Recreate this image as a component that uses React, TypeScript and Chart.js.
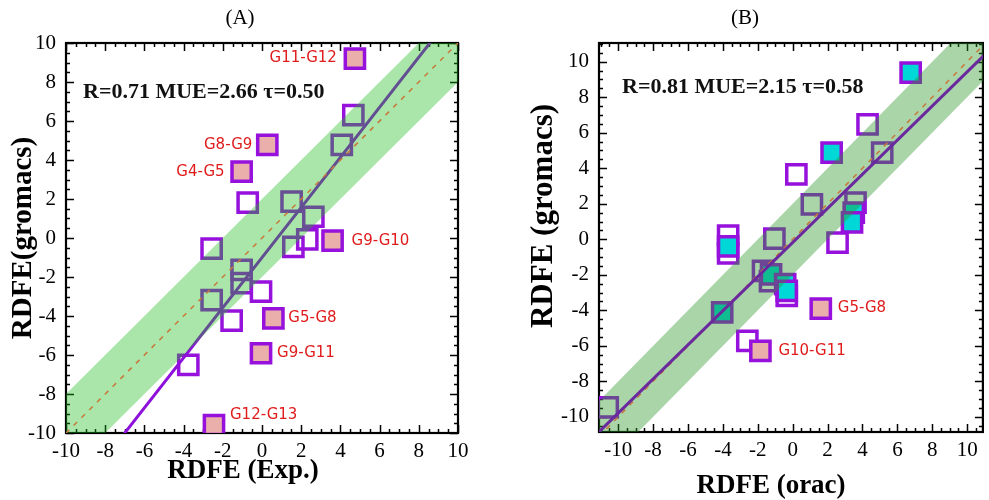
import React, { useEffect, useRef } from "react";
import { Chart, registerables } from "chart.js";
Chart.register(...registerables);

type P = { x: number; y: number };

// ---------------- Panel A data ----------------
const tickValuesA = [-10, -8, -6, -4, -2, 0, 2, 4, 6, 8, 10];
const openA: P[] = [
  { x: 4.66, y: 6.3 }, { x: 4.07, y: 4.77 }, { x: -0.73, y: 1.81 }, { x: 1.51, y: 1.86 },
  { x: 2.62, y: 1.09 }, { x: 2.31, y: -0.07 }, { x: 1.6, y: -0.45 }, { x: -2.57, y: -0.55 },
  { x: -1.04, y: -1.64 }, { x: -1.04, y: -2.32 }, { x: -2.57, y: -3.18 }, { x: -0.05, y: -2.75 },
  { x: -1.55, y: -4.24 }, { x: -3.76, y: -6.51 },
];
const filledA: P[] = [
  { x: 4.74, y: 9.2 }, { x: 0.27, y: 4.77 }, { x: -1.04, y: 3.4 }, { x: 3.6, y: -0.14 },
  { x: 0.58, y: -4.12 }, { x: -0.05, y: -5.91 }, { x: -2.45, y: -9.59 },
];
const filledLabelsA = ["G11-G12", "G8-G9", "G4-G5", "G9-G10", "G5-G8", "G9-G11", "G12-G13"];
const fitLineA: P[] = [{ x: -8, y: -11.28 }, { x: 9.5, y: 11.2 }];
const identityA: P[] = [{ x: -12, y: -12 }, { x: 12, y: 12 }];
const bandUpperA: P[] = [{ x: -12, y: -10 }, { x: 12, y: 14 }];
const bandLowerA: P[] = [{ x: -12, y: -14 }, { x: 12, y: 10 }];
const statsA = "R=0.71 MUE=2.66 \u03c4=0.50";

// ---------------- Panel B data ----------------
const tickValuesB = [-10, -8, -6, -4, -2, 0, 2, 4, 6, 8, 10];
const openB: P[] = [
  { x: 4.29, y: 6.47 }, { x: 5.13, y: 4.88 }, { x: 0.21, y: 3.66 }, { x: 1.1, y: 1.97 },
  { x: 3.6, y: 2.06 }, { x: 2.57, y: -0.19 }, { x: -1.05, y: 0.04 }, { x: -3.7, y: 0.2 },
  { x: -3.7, y: -0.8 }, { x: -1.7, y: -1.78 }, { x: -1.3, y: -2.35 }, { x: -0.34, y: -3.19 },
  { x: -2.6, y: -5.72 }, { x: -10.6, y: -9.47 },
];
const cyanB: P[] = [
  { x: 6.76, y: 9.38 }, { x: 2.23, y: 4.88 }, { x: 3.5, y: 1.5 }, { x: 3.4, y: 0.95 },
  { x: -3.7, y: -0.4 }, { x: -1.24, y: -1.97 }, { x: -0.43, y: -2.53 }, { x: -0.34, y: -2.9 },
  { x: -4.04, y: -4.12 },
];
const filledB: P[] = [{ x: 1.61, y: -3.9 }, { x: -1.85, y: -6.28 }];
const filledLabelsB = ["G5-G8", "G10-G11"];
const fitLineB: P[] = [{ x: -11.5, y: -11.23 }, { x: 11.5, y: 10.87 }];
const identityB: P[] = [{ x: -12, y: -12 }, { x: 12, y: 12 }];
const bandUpperB: P[] = [{ x: -12, y: -10 }, { x: 12, y: 14 }];
const bandLowerB: P[] = [{ x: -12, y: -14 }, { x: 12, y: 10 }];
const statsB = "R=0.81 MUE=2.15 \u03c4=0.58";

// ---------------- styles ----------------
const SERIF = '"Liberation Serif", "Times New Roman", serif';
const SANS = '"DejaVu Sans", sans-serif';
const PURPLE = "#9612DC";
const PINK = "#EBAFAB";
const CYAN = "#00D7D7";
const RED = "#E01B1B";
const DOT = "#C8783A";

type Spec = {
  id: string;
  left: number;
  width: number;
  pad: { left: number; right: number; top: number; bottom: number };
  yAxisW: number;
  xAxisH: number;
  xMin: number; xMax: number; yMin: number; yMax: number;
  ticks: number[];
  open: P[];
  filled: P[];
  filledLabels: string[];
  labelPlace: { side: number; dx: number; dy: number }[];
  cyan: P[];
  fit: P[];
  fitColor: string;
  fitOrder: number;
  identity: P[];
  bandUpper: P[];
  bandLower: P[];
  bandColor: string;
  stats: string;
  statsPos: { x: number; y: number };
  title: string;
  titlePos: { x: number; y: number };
  xTitle: string;
  xTitlePos: { x: number; y: number };
  yTitle: string;
  yTitlePos: { x: number; y: number };
  yTitleSize: number;
};

const specA: Spec = {
  id: "A", left: 0, width: 494,
  pad: { left: 0, right: 36, top: 43, bottom: 0 },
  yAxisW: 66, xAxisH: 67,
  xMin: -10, xMax: 10, yMin: -10, yMax: 10,
  ticks: tickValuesA,
  open: openA, filled: filledA, filledLabels: filledLabelsA,
  labelPlace: [
    { side: -1, dx: 18, dy: 0 }, { side: -1, dx: 15, dy: 0 }, { side: -1, dx: 17, dy: 0 },
    { side: 1, dx: 19, dy: 0 }, { side: 1, dx: 15, dy: 0 }, { side: 1, dx: 16, dy: 0 },
    { side: 1, dx: 16, dy: -10 },
  ],
  cyan: [],
  fit: fitLineA, fitColor: "#8E10DA", fitOrder: 3,
  identity: identityA, bandUpper: bandUpperA, bandLower: bandLowerA,
  bandColor: "rgba(25,187,25,0.37)",
  stats: statsA, statsPos: { x: 83, y: 92 },
  title: "(A)", titlePos: { x: 240, y: 18 },
  xTitle: "RDFE (Exp.)", xTitlePos: { x: 243, y: 471 },
  yTitle: "RDFE(gromacs)", yTitlePos: { x: 24, y: 238 },
  yTitleSize: 29,
};

const specB: Spec = {
  id: "B", left: 494, width: 506,
  pad: { left: 0, right: 9, top: 43, bottom: 0 },
  yAxisW: 105, xAxisH: 68,
  xMin: -11.1, xMax: 10.9, yMin: -10.85, yMax: 11.05,
  ticks: tickValuesB,
  open: openB, filled: filledB, filledLabels: filledLabelsB,
  labelPlace: [{ side: 1, dx: 17, dy: 0 }, { side: 1, dx: 18, dy: 0 }],
  cyan: cyanB,
  fit: fitLineB, fitColor: "#6A2A9E", fitOrder: 0,
  identity: identityB, bandUpper: bandUpperB, bandLower: bandLowerB,
  bandColor: "rgba(40,150,40,0.4)",
  stats: statsB, statsPos: { x: 128, y: 87 },
  title: "(B)", titlePos: { x: 251, y: 18 },
  xTitle: "RDFE (orac)", xTitlePos: { x: 277, y: 486 },
  yTitle: "RDFE (gromacs)", yTitlePos: { x: 50, y: 216 },
  yTitleSize: 31,
};

function decorPlugin(s: Spec) {
  return {
    id: "decor" + s.id,
    beforeDatasetsDraw(chart: any) {
      const { ctx, chartArea: a } = chart;
      const xs = chart.scales.x;
      const ys = chart.scales.y;
      ctx.save();
      ctx.strokeStyle = "#000";
      ctx.lineWidth = 1.5;
      const isMajor = (v: number) => Math.abs(v / 2 - Math.round(v / 2)) < 1e-6;
      for (let i = Math.ceil(xs.min * 2); i <= Math.floor(xs.max * 2); i++) {
        const v = i / 2;
        const len = isMajor(v) ? 8 : 4;
        const p = Math.round(xs.getPixelForValue(v)) + 0.5;
        ctx.beginPath();
        ctx.moveTo(p, a.bottom); ctx.lineTo(p, a.bottom - len);
        ctx.moveTo(p, a.top); ctx.lineTo(p, a.top + len);
        ctx.stroke();
      }
      for (let i = Math.ceil(ys.min * 2); i <= Math.floor(ys.max * 2); i++) {
        const v = i / 2;
        const len = isMajor(v) ? 8 : 4;
        const p = Math.round(ys.getPixelForValue(v)) + 0.5;
        ctx.beginPath();
        ctx.moveTo(a.left, p); ctx.lineTo(a.left + len, p);
        ctx.moveTo(a.right, p); ctx.lineTo(a.right - len, p);
        ctx.stroke();
      }
      ctx.lineWidth = 2.2;
      ctx.strokeRect(a.left, a.top, a.right - a.left, a.bottom - a.top);
      ctx.restore();
    },
    afterDatasetsDraw(chart: any) {
      const { ctx } = chart;
      const xs = chart.scales.x;
      const ys = chart.scales.y;
      ctx.save();
      ctx.font = `15px ${SANS}`;
      ctx.fillStyle = RED;
      ctx.textBaseline = "middle";
      s.filled.forEach((pt, i) => {
        const lp = s.labelPlace[i];
        ctx.textAlign = lp.side > 0 ? "left" : "right";
        ctx.fillText(
          s.filledLabels[i],
          xs.getPixelForValue(pt.x) + lp.side * lp.dx,
          ys.getPixelForValue(pt.y) + lp.dy
        );
      });
      ctx.font = `bold 22px ${SERIF}`;
      ctx.fillStyle = "#111";
      ctx.textAlign = "left";
      ctx.fillText(s.stats, s.statsPos.x, s.statsPos.y);
      ctx.restore();
    },
    afterDraw(chart: any) {
      const { ctx } = chart;
      ctx.save();
      ctx.fillStyle = "#000";
      ctx.textAlign = "center";
      ctx.textBaseline = "middle";
      ctx.font = `21px ${SERIF}`;
      ctx.fillText(s.title, s.titlePos.x, s.titlePos.y);
      ctx.font = `bold 27px ${SERIF}`;
      ctx.fillText(s.xTitle, s.xTitlePos.x, s.xTitlePos.y);
      ctx.font = `bold ${s.yTitleSize}px ${SERIF}`;
      ctx.translate(s.yTitlePos.x, s.yTitlePos.y);
      ctx.rotate(-Math.PI / 2);
      ctx.fillText(s.yTitle, 0, 0);
      ctx.restore();
    },
  };
}

function buildConfig(s: Spec): any {
  const pointDs = (data: P[], fill: string, order: number) => ({
    data,
    pointStyle: "rect",
    pointRadius: 13.6,
    pointBorderWidth: 3.5,
    borderWidth: 3.5,
    pointBorderColor: PURPLE,
    borderColor: PURPLE,
    pointBackgroundColor: fill,
    backgroundColor: fill,
    order,
  });
  const lineDs = (data: P[], color: string, width: number, order: number, dash: number[] = []) => ({
    type: "line",
    data,
    showLine: true,
    borderColor: color,
    borderWidth: width,
    borderDash: dash,
    pointRadius: 0,
    fill: false,
    order,
  });
  const datasets: any[] = [
    { ...lineDs(s.bandUpper, "rgba(0,0,0,0)", 0, 2) },
    { ...lineDs(s.bandLower, "rgba(0,0,0,0)", 0, 2), fill: "-1", backgroundColor: s.bandColor },
    lineDs(s.identity, DOT, 1.5, 1, [5, 6]),
    lineDs(s.fit, s.fitColor, 3, s.fitOrder),
    pointDs(s.filled, PINK, 4),
    pointDs(s.cyan, CYAN, 5),
    pointDs(s.open, "rgba(0,0,0,0)", 6),
  ];
  const tickFont = { family: SERIF, size: 21 };
  return {
    type: "scatter",
    data: { datasets },
    options: {
      responsive: false,
      animation: false,
      devicePixelRatio: 1,
      events: [],
      layout: { padding: s.pad },
      plugins: { legend: { display: false }, tooltip: { enabled: false }, title: { display: false } },
      scales: {
        x: {
          type: "linear",
          min: s.xMin,
          max: s.xMax,
          afterBuildTicks: (sc: any) => { sc.ticks = s.ticks.map((v) => ({ value: v })); },
          afterFit: (sc: any) => { sc.height = s.xAxisH; sc.paddingLeft = 0; sc.paddingRight = 0; },
          grid: { display: false, drawTicks: false },
          border: { display: false },
          ticks: { font: tickFont, color: "#000", padding: 6, maxRotation: 0, autoSkip: false, callback: (v: any) => String(v) },
        },
        y: {
          type: "linear",
          min: s.yMin,
          max: s.yMax,
          afterBuildTicks: (sc: any) => { sc.ticks = s.ticks.map((v) => ({ value: v })); },
          afterFit: (sc: any) => { sc.width = s.yAxisW; sc.paddingTop = 0; sc.paddingBottom = 0; },
          grid: { display: false, drawTicks: false },
          border: { display: false },
          ticks: { font: tickFont, color: "#000", padding: 10, autoSkip: false, callback: (v: any) => String(v) },
        },
      },
    },
    plugins: [decorPlugin(s)],
  };
}

function Panel({ spec }: { spec: Spec }) {
  const ref = useRef<HTMLCanvasElement | null>(null);
  useEffect(() => {
    if (!ref.current) return;
    const chart = new Chart(ref.current, buildConfig(spec));
    return () => chart.destroy();
  }, [spec]);
  return (
    <canvas
      ref={ref}
      width={spec.width}
      height={500}
      style={{ position: "absolute", left: spec.left, top: 0, width: spec.width, height: 500 }}
    />
  );
}

export default function App() {
  return (
    <div
      style={{
        position: "fixed",
        left: 0,
        top: 0,
        width: 989,
        height: 500,
        overflow: "hidden",
        background: "#fff",
      }}
    >
      <Panel spec={specA} />
      <Panel spec={specB} />
    </div>
  );
}
